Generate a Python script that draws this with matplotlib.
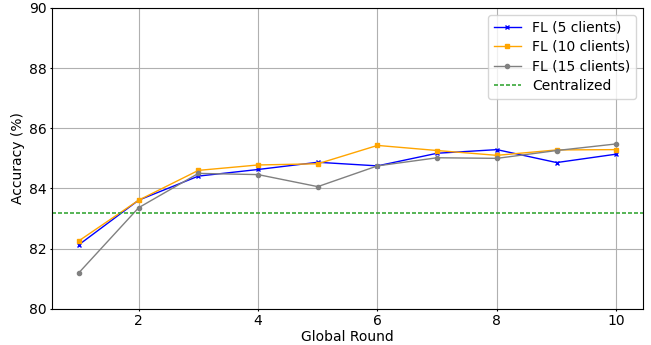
import matplotlib
matplotlib.use("Agg")
import matplotlib.pyplot as plt

rounds = [1, 2, 3, 4, 5, 6, 7, 8, 9, 10]
fl5 = [82.13, 83.61, 84.41, 84.63, 84.87, 84.75, 85.17, 85.29, 84.86, 85.14]
fl10 = [82.26, 83.61, 84.60, 84.78, 84.82, 85.43, 85.26, 85.10, 85.28, 85.29]
fl15 = [81.20, 83.36, 84.50, 84.46, 84.06, 84.75, 85.02, 85.00, 85.26, 85.48]
centralized = 83.2

fig, ax = plt.subplots(figsize=(6.51, 3.45), dpi=100)
ax.plot(rounds, fl5, color="blue", marker="x", markersize=3, linewidth=1, label="FL (5 clients)")
ax.plot(rounds, fl10, color="orange", marker="s", markersize=3.2, linewidth=1, label="FL (10 clients)")
ax.plot(rounds, fl15, color="gray", marker="o", markersize=3, linewidth=1, label="FL (15 clients)")
ax.axhline(centralized, color="#3aa83a", linestyle="--", dashes=(2.4, 1.2),
           linewidth=1.2, label="Centralized")
ax.set_ylim(80, 90)
ax.set_xlabel("Global Round", labelpad=1)
ax.set_ylabel("Accuracy (%)", labelpad=3)
ax.tick_params(length=1.5, pad=2.5)
ax.grid(True)
ax.legend(loc="upper right", labelspacing=0.4)
fig.subplots_adjust(left=0.080, right=0.988, top=0.977, bottom=0.105)
fig.savefig("out.png")
